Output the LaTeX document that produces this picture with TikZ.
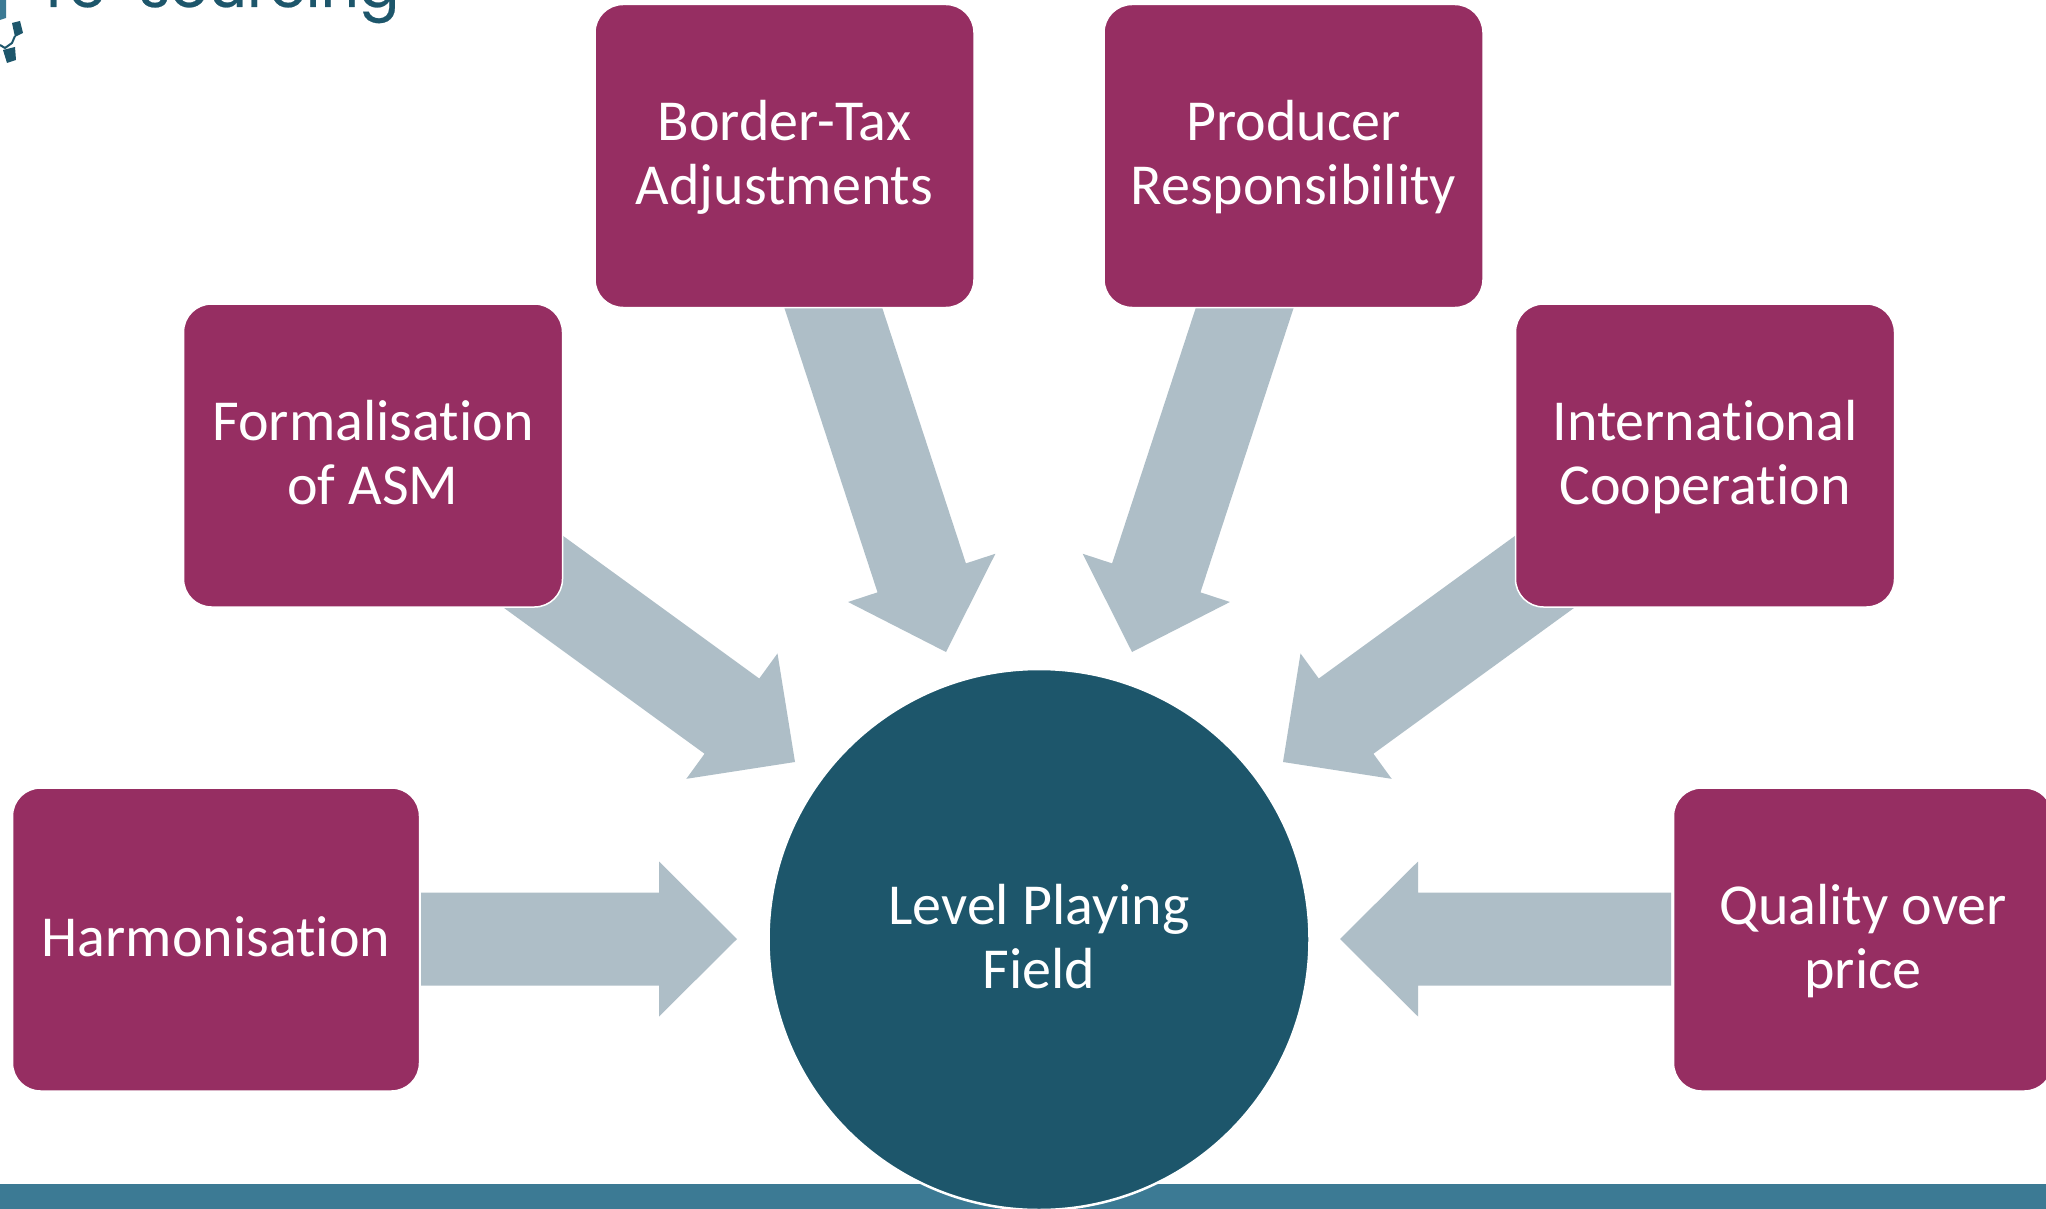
\documentclass[tikz,border=0pt]{standalone}
\usepackage{fontspec}
\setmainfont{Carlito}[Ligatures=NoCommon]
\newfontfamily\logofont{Poppins}[FakeBold=0.4]
\usetikzlibrary{calc}
\definecolor{boxplum}{HTML}{962E62}
\definecolor{deepteal}{HTML}{1D566B}
\definecolor{barteal}{HTML}{3C7A94}
\definecolor{arrowgrey}{HTML}{AEBEC7}
\newcommand{\ts}{\rule[-15.2pt]{0pt}{64pt}}
\tikzset{
  plumbox/.style={draw=white,line width=1.5pt,fill=boxplum,rounded corners=28pt,text=white,align=center,inner sep=0pt,minimum height=303pt,font=\fontsize{58}{64}\selectfont},
  hub/.style={circle,draw=white,line width=2.5pt,fill=deepteal,text=white,align=center,inner sep=0pt,minimum size=541pt,font=\fontsize{58}{64}\selectfont},
  blockarrow/.style={fill=arrowgrey,draw=none},
  logopart/.style={fill=deepteal,draw=none},
}
% start, tip: shaft half 46.5, head half 77.5, head length 78
\newcommand{\blockarrow}[2]{%
  \coordinate (hb) at ($(#2)!78pt!(#1)$);
  \fill[blockarrow]
    ($(#1)!46.5pt!90:(#2)$) -- ($(hb)!46.5pt!90:(#2)$) -- ($(hb)!77.5pt!90:(#2)$) -- (#2)
    -- ($(hb)!77.5pt!-90:(#2)$) -- ($(hb)!46.5pt!-90:(#2)$) -- ($(#1)!46.5pt!-90:(#2)$) -- cycle;
}
\begin{document}
\begin{tikzpicture}[x=1pt,y=-1pt]
\clip (0,0) rectangle (2046,1209);
\fill[white] (0,0) rectangle (2046,1209);
% logo fragment
\node[anchor=base west,inner sep=0pt,text=deepteal,font=\logofont\fontsize{60}{60}\selectfont] (logotext) at (46,7) {re\raisebox{12pt}{-}sourcing};
\fill[barteal] (0,0) -- (6,0) -- (6,18) -- (0,20) -- cycle;
\fill[logopart] (12,23) -- (20,21) -- (23,33) -- (15,37) -- cycle;
\fill[logopart] (3,50) -- (15,47) -- (16,60) -- (7,63) -- cycle;
\draw[deepteal,line width=2pt] (0,45) -- (5,48) -- (12,43) -- (15,36);
% bottom bar
\fill[barteal] (0,1184) rectangle (2046,1209);
% anchors of the block arrows (start ends run under the boxes)
\coordinate (hs) at (421,939);   \coordinate (he) at (737,939);
\coordinate (qs) at (1671,939);  \coordinate (qe) at (1340,939);
\coordinate (fs) at (502,549);   \coordinate (fe) at (795,762);
\coordinate (is) at (1576,549);  \coordinate (ie) at (1283,762);
\coordinate (bs) at (815,252);   \coordinate (be) at (946,652);
\coordinate (ps) at (1263,252);  \coordinate (pe) at (1132,652);
\blockarrow{hs}{he}
\blockarrow{qs}{qe}
\blockarrow{fs}{fe}
\blockarrow{is}{ie}
\blockarrow{bs}{be}
\blockarrow{ps}{pe}
% boxes
\node[plumbox,minimum width=407pt] (harm) at (216,939.5) {\ts Harmonisation};
\node[plumbox,minimum width=379pt] (qual) at (1863,939.5) {\ts Quality over\\\ts price};
\node[plumbox,minimum width=379pt] (form) at (373,455.5) {\ts Formalisation\\\ts of ASM};
\node[plumbox,minimum width=379pt] (intl) at (1705,455.5) {\ts International\\\ts Cooperation};
\node[plumbox,minimum width=379pt] (bord) at (784.5,156) {\ts Border-Tax\\\ts Adjustments};
\node[plumbox,minimum width=379pt] (prod) at (1293.5,156) {\ts Producer\\\ts Responsibility};
\node[hub] (lpf) at (1039,939.5) {\ts Level Playing\\\ts Field};
\end{tikzpicture}
\end{document}
